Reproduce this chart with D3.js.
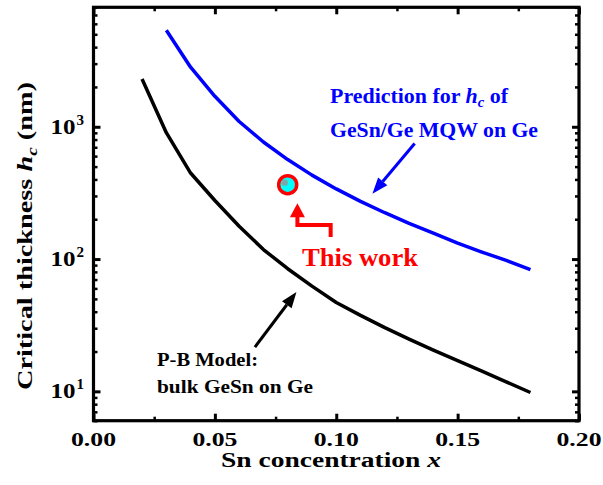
<!DOCTYPE html>
<html>
<head>
<meta charset="utf-8">
<script src="https://cdn.jsdelivr.net/npm/d3@7"></script>
<style>
  html, body { margin: 0; padding: 0; background: #fff; }
  svg { display: block; }
</style>
</head>
<body>
<svg id="chart" width="603" height="485" font-family="'Liberation Serif', 'Times New Roman', Tinos, Times, serif" font-weight="bold"></svg>
<script>
// Sn concentration (x) and critical thickness h_c (nm)
const pbX = [0.02, 0.03, 0.04, 0.05, 0.06, 0.07, 0.08, 0.09, 0.10, 0.11, 0.12, 0.13, 0.14, 0.15, 0.16, 0.17, 0.18];
const pbH = [2300, 902, 447, 277, 177, 118, 84.5, 62.4, 47, 37.5, 30.3, 24.8, 20.5, 17.1, 14.2, 11.8, 9.8];

const mqwX = [0.03, 0.04, 0.05, 0.06, 0.07, 0.08, 0.09, 0.10, 0.11, 0.12, 0.13, 0.14, 0.15, 0.16, 0.17, 0.18];
const mqwH = [5370, 2820, 1700, 1096, 767, 565, 431, 339, 273, 224, 186, 157, 132, 113, 97.7, 83.2];

// measured sample
const workX = [0.08];
const workH = [365];

const xTicks = [0, 0.05, 0.10, 0.15, 0.20];
const xTickLabels = ["0.00", "0.05", "0.10", "0.15", "0.20"];
const yTicks = [10, 100, 1000];
const yTickExps = ["1", "2", "3"];

const svg = d3.select("#chart");
const pL = 93.5, pR = 579, pT = 7.3, pB = 420.7;

const x = d3.scaleLinear().domain([0, 0.2]).range([pL, pR]);
const y = d3.scaleLog().domain([6, 8000]).range([pB, pT]);

// minor ticks
const xMinor = d3.range(0.025, 0.2, 0.05);
const yMinor = [];
[1, 10, 100, 1000].forEach(d => { for (let k = 2; k <= 9; k++) { const v = d * k; if (v >= 6 && v <= 8000) yMinor.push(v); } });

const axisG = svg.append("g");

function styleAxis(g, w) {
  g.select(".domain").remove();
  g.selectAll(".tick line").attr("stroke", "#000").attr("stroke-width", w);
}
axisG.append("g").attr("transform", `translate(0,${pB})`)
  .call(d3.axisBottom(x).tickValues(xTicks).tickSize(-7).tickFormat("")).call(g => styleAxis(g, 3));
axisG.append("g").attr("transform", `translate(0,${pT})`)
  .call(d3.axisTop(x).tickValues(xTicks).tickSize(-7).tickFormat("")).call(g => styleAxis(g, 3));
axisG.append("g").attr("transform", `translate(0,${pB})`)
  .call(d3.axisBottom(x).tickValues(xMinor).tickSize(-4).tickFormat("")).call(g => styleAxis(g, 2.5));
axisG.append("g").attr("transform", `translate(0,${pT})`)
  .call(d3.axisTop(x).tickValues(xMinor).tickSize(-4).tickFormat("")).call(g => styleAxis(g, 2.5));
axisG.append("g").attr("transform", `translate(${pL},0)`)
  .call(d3.axisLeft(y).tickValues(yTicks).tickSize(-7).tickFormat("")).call(g => styleAxis(g, 3));
axisG.append("g").attr("transform", `translate(${pR},0)`)
  .call(d3.axisRight(y).tickValues(yTicks).tickSize(-7).tickFormat("")).call(g => styleAxis(g, 3));
axisG.append("g").attr("transform", `translate(${pL},0)`)
  .call(d3.axisLeft(y).tickValues(yMinor).tickSize(-4).tickFormat("")).call(g => styleAxis(g, 2.5));
axisG.append("g").attr("transform", `translate(${pR},0)`)
  .call(d3.axisRight(y).tickValues(yMinor).tickSize(-4).tickFormat("")).call(g => styleAxis(g, 2.5));

// frame
svg.append("rect")
  .attr("x", pL).attr("y", pT)
  .attr("width", pR - pL).attr("height", pB - pT)
  .attr("fill", "none").attr("stroke", "#000").attr("stroke-width", 3.2);

// tick labels
svg.append("g").selectAll("text").data(xTicks).join("text")
  .attr("x", d => x(d)).attr("y", 445.5)
  .attr("text-anchor", "middle")
  .attr("font-size", 19)
  .attr("textLength", 45).attr("lengthAdjust", "spacingAndGlyphs")
  .text((d, i) => xTickLabels[i]);

const ylG = svg.append("g");
ylG.selectAll("text.base").data(yTicks).join("text").attr("class", "base")
  .attr("x", 75.5).attr("y", d => y(d) + 7)
  .attr("text-anchor", "end").attr("font-size", 22)
  .attr("textLength", 25).attr("lengthAdjust", "spacingAndGlyphs")
  .text("10");
ylG.selectAll("text.exp").data(yTicks).join("text").attr("class", "exp")
  .attr("x", 76.5).attr("y", d => y(d) - 2)
  .attr("text-anchor", "start").attr("font-size", 15)
  .text((d, i) => yTickExps[i]);

// axis titles
const xt = svg.append("text")
  .attr("x", 331).attr("y", 467)
  .attr("text-anchor", "middle").attr("font-size", 20)
  .attr("textLength", 220).attr("lengthAdjust", "spacingAndGlyphs");
xt.append("tspan").text("Sn concentration ");
xt.append("tspan").attr("font-style", "italic").text("x");

const ytl = svg.append("text")
  .attr("transform", `translate(32,236) rotate(-90)`)
  .attr("text-anchor", "middle").attr("font-size", 22)
  .attr("textLength", 308).attr("lengthAdjust", "spacingAndGlyphs");
ytl.append("tspan").text("Critical thickness ");
ytl.append("tspan").attr("font-style", "italic").text("h");
ytl.append("tspan").attr("font-style", "italic").attr("font-size", 15).attr("dy", 5).text("c");
ytl.append("tspan").attr("dy", -5).text(" (nm)");

// curves
const line = d3.line().x(d => x(d[0])).y(d => y(d[1]));
svg.append("path")
  .datum(pbX.map((v, i) => [v, pbH[i]]))
  .attr("d", line).attr("fill", "none")
  .attr("stroke", "#000").attr("stroke-width", 3.5).attr("stroke-linejoin", "round");
svg.append("path")
  .datum(mqwX.map((v, i) => [v, mqwH[i]]))
  .attr("d", line).attr("fill", "none")
  .attr("stroke", "#0000ff").attr("stroke-width", 3.5).attr("stroke-linejoin", "round");

// arrows
function arrow(x1, y1, x2, y2, color, headLen, headW, w) {
  const dx = x2 - x1, dy = y2 - y1, L = Math.hypot(dx, dy);
  const ux = dx / L, uy = dy / L;
  const bx = x2 - ux * headLen, by = y2 - uy * headLen;
  svg.append("line").attr("x1", x1).attr("y1", y1).attr("x2", bx).attr("y2", by)
    .attr("stroke", color).attr("stroke-width", w);
  svg.append("polygon")
    .attr("points", [[x2, y2], [bx - uy * headW / 2, by + ux * headW / 2], [bx + uy * headW / 2, by - ux * headW / 2]].map(p => p.join(",")).join(" "))
    .attr("fill", color);
}
arrow(x(0.1323), y(747), x(0.1149), y(312), "#0000ff", 16, 12, 3);
arrow(x(0.0665), y(21.6), x(0.0836), y(56.4), "#000", 16, 12, 3);

// "This work" pointer
const redPts = [[0.0977, 146.6], [0.0977, 181], [0.084, 181], [0.084, 232]];
svg.append("path")
  .attr("d", d3.line().x(d => x(d[0])).y(d => y(d[1]))(redPts))
  .attr("fill", "none").attr("stroke", "#ff0000").attr("stroke-width", 4);
const tipX = x(0.084), tipY = y(264);
svg.append("polygon")
  .attr("points", `${tipX},${tipY} ${tipX - 7.5},${tipY + 14} ${tipX + 7.5},${tipY + 14}`)
  .attr("fill", "#ff0000");

// data point
svg.append("g").selectAll("circle").data(workX).join("circle")
  .attr("cx", d => x(d)).attr("cy", (d, i) => y(workH[i]))
  .attr("r", 9).attr("fill", "#00ffff").attr("stroke", "#ff0000").attr("stroke-width", 3.5);
svg.append("g").selectAll("circle").data(workX).join("circle")
  .attr("cx", d => x(d) - 3).attr("cy", (d, i) => y(workH[i]) - 2)
  .attr("r", 3.2).attr("fill", "#7aa8a8");

// annotations
svg.append("text").attr("x", 302).attr("y", 266).attr("font-size", 25)
  .attr("fill", "#ff0000").attr("textLength", 116).attr("lengthAdjust", "spacingAndGlyphs")
  .text("This work");

const p1 = svg.append("text").attr("x", 330).attr("y", 103).attr("font-size", 21)
  .attr("fill", "#0000ff").attr("textLength", 178).attr("lengthAdjust", "spacingAndGlyphs");
p1.append("tspan").text("Prediction for ");
p1.append("tspan").attr("font-style", "italic").text("h");
p1.append("tspan").attr("font-style", "italic").attr("font-size", 14).attr("dy", 4).text("c");
p1.append("tspan").attr("dy", -4).text(" of");
svg.append("text").attr("x", 330).attr("y", 137).attr("font-size", 21)
  .attr("fill", "#0000ff").attr("textLength", 208).attr("lengthAdjust", "spacingAndGlyphs")
  .text("GeSn/Ge MQW on Ge");

svg.append("text").attr("x", 157).attr("y", 366).attr("font-size", 19)
  .attr("fill", "#000").attr("textLength", 101).attr("lengthAdjust", "spacingAndGlyphs")
  .text("P-B Model:");
svg.append("text").attr("x", 157).attr("y", 393).attr("font-size", 19)
  .attr("fill", "#000").attr("textLength", 156).attr("lengthAdjust", "spacingAndGlyphs")
  .text("bulk GeSn on Ge");
</script>
</body>
</html>
